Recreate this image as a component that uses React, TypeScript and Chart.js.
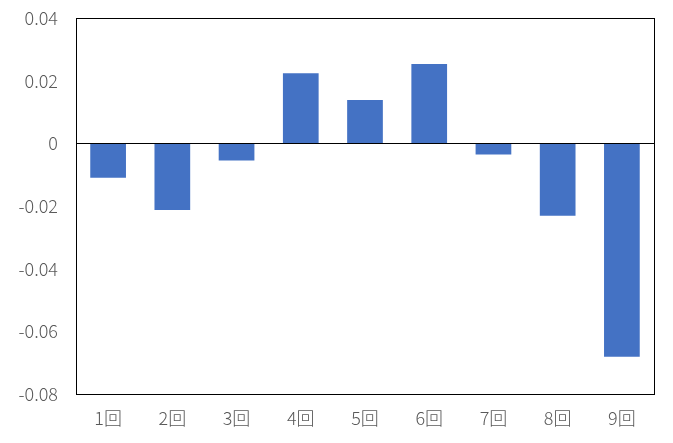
import React, { useEffect, useRef } from "react";
import { Chart, registerables } from "chart.js";

Chart.register(...registerables);

const categories = ["1回", "2回", "3回", "4回", "5回", "6回", "7回", "8回", "9回"];
const values = [-0.011, -0.0213, -0.0055, 0.0224, 0.0138, 0.0253, -0.0036, -0.0231, -0.0681];
const yTicks = [0.04, 0.02, 0, -0.02, -0.04, -0.06, -0.08];

const frame = {
  id: "frame",
  afterDatasetsDraw(chart: any) {
    const { ctx, chartArea } = chart;
    const y0 = chart.scales.y.getPixelForValue(0);
    ctx.save();
    ctx.strokeStyle = "#000";
    ctx.lineWidth = 1;
    ctx.beginPath();
    ctx.moveTo(chartArea.left, Math.round(y0) + 0.5);
    ctx.lineTo(chartArea.right, Math.round(y0) + 0.5);
    ctx.stroke();
    ctx.strokeRect(
      Math.round(chartArea.left) + 0.5,
      Math.round(chartArea.top) + 0.5,
      Math.round(chartArea.right - chartArea.left),
      Math.round(chartArea.bottom - chartArea.top)
    );
    ctx.restore();
  },
};

export default function App() {
  const ref = useRef<HTMLCanvasElement>(null);
  useEffect(() => {
    document.body.style.margin = "0";
    const font = { family: "'Noto Sans CJK JP', sans-serif", size: 18, weight: "300" as any };
    const chart = new Chart(ref.current!, {
      type: "bar",
      data: {
        labels: categories,
        datasets: [
          {
            data: values,
            backgroundColor: "#4472C4",
            categoryPercentage: 1,
            barPercentage: 0.556,
          },
        ],
      },
      options: {
        animation: false,
        responsive: false,
        layout: { padding: { left: 0, top: 18, right: 19, bottom: 0 } },
        plugins: { legend: { display: false }, tooltip: { enabled: false } },
        scales: {
          x: {
            grid: { display: false, drawTicks: false },
            border: { display: false },
            ticks: { color: "#595959", font, padding: 13, maxRotation: 0 },
            afterFit(scale: any) {
              scale.height = 49;
              scale.paddingLeft = 0;
              scale.paddingRight = 0;
            },
          },
          y: {
            min: -0.08,
            max: 0.04,
            grid: { display: false, drawTicks: false },
            border: { display: false },
            afterBuildTicks(scale: any) {
              scale.ticks = yTicks.map((v) => ({ value: v }));
            },
            ticks: {
              color: "#595959",
              font,
              padding: 18,
              callback: (v: any) => String(Math.round(Number(v) * 100) / 100),
            },
            afterFit(scale: any) {
              scale.width = 76;
              scale.paddingTop = 0;
              scale.paddingBottom = 0;
            },
          },
        },
      },
      plugins: [frame],
    });
    return () => chart.destroy();
  }, []);
  return (
    <div style={{ width: 673, height: 443 }}>
      <canvas ref={ref} width={673} height={443} style={{ display: "block" }} />
    </div>
  );
}
